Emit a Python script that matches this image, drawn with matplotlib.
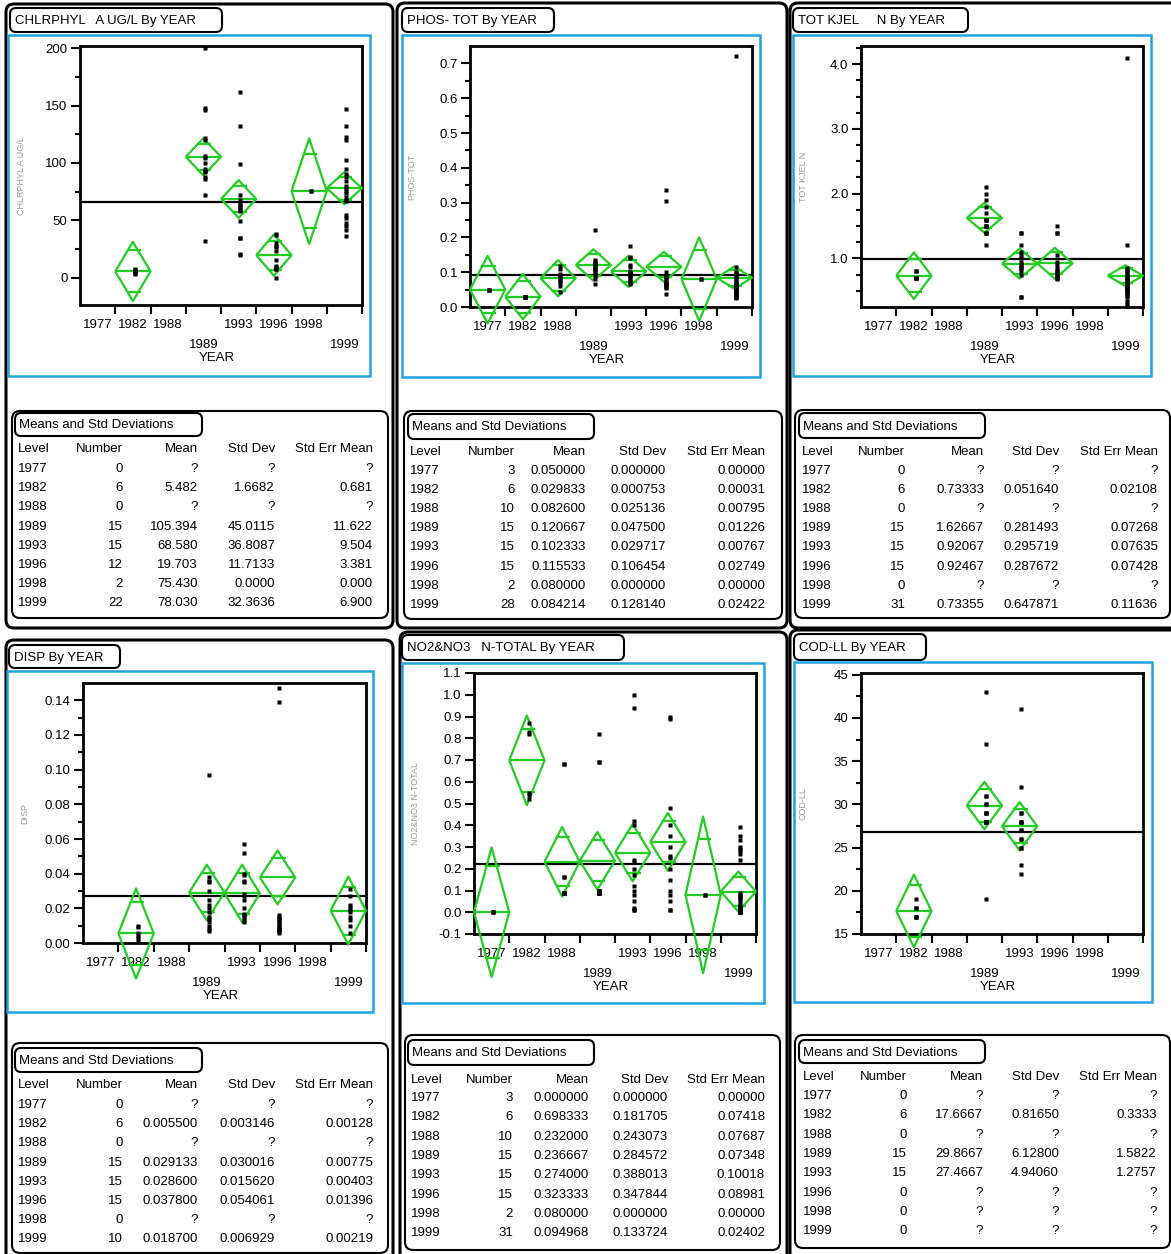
import matplotlib.pyplot as plt
from matplotlib.patches import FancyBboxPatch, Rectangle
from matplotlib.ticker import FixedLocator, FormatStrFormatter

plt.rcParams['font.family'] = ['Liberation Sans', 'DejaVu Sans']

W, H = 1171, 1254
GREEN = '#22cc22'
BLUE = '#1fa3df'
FS = 9.5

YEARS = ['1977', '1982', '1988', '1989', '1993', '1996', '1998', '1999']
LOWER_ROW = ['1989', '1999']
TABLE_HEAD = ['Level', 'Number', 'Mean', 'Std Dev', 'Std Err Mean']

# ---- CHLRPHYL A UG/L ----
chl_n = ['0', '6', '0', '15', '15', '12', '2', '22']
chl_mean = ['?', '5.482', '?', '105.394', '68.580', '19.703', '75.430', '78.030']
chl_sd = ['?', '1.6682', '?', '45.0115', '36.8087', '11.7133', '0.0000', '32.3636']
chl_sem = ['?', '0.681', '?', '11.622', '9.504', '3.381', '0.000', '6.900']
chl_ci = [0, 25.8, 0, 16.2, 16.5, 18.0, 46.0, 14.0]
chl_grand = 66.3
chl_pts = [[], [3.2, 4.5, 5.3, 6.0, 6.9, 7.5], [],
           [200, 148, 146, 122, 120, 106, 104, 100, 95, 93, 92, 88, 86, 72, 32],
           [162, 132, 99, 72, 68, 65, 63, 62, 60, 58, 49, 35, 35, 21, 20],
           [38, 37, 30, 28, 27, 23, 15, 10, 9, 8, 8, 0],
           [75.4, 75.4],
           [147, 132, 123, 120, 103, 95, 90, 88, 84, 80, 78, 76, 74, 70, 68, 67, 55, 52, 48, 45, 42, 36]]

# ---- PHOS-TOT ----
pho_n = ['3', '6', '10', '15', '15', '15', '2', '28']
pho_mean = ['0.050000', '0.029833', '0.082600', '0.120667', '0.102333', '0.115533', '0.080000', '0.084214']
pho_sd = ['0.000000', '0.000753', '0.025136', '0.047500', '0.029717', '0.106454', '0.000000', '0.128140']
pho_sem = ['0.00000', '0.00031', '0.00795', '0.01226', '0.00767', '0.02749', '0.00000', '0.02422']
pho_ci = [0.097, 0.065, 0.052, 0.045, 0.045, 0.043, 0.12, 0.032]
pho_grand = 0.093
pho_pts = [[0.05, 0.05, 0.05], [0.029, 0.03, 0.03, 0.03, 0.03, 0.029],
           [0.117, 0.11, 0.095, 0.09, 0.085, 0.08, 0.075, 0.07, 0.06, 0.044],
           [0.22, 0.135, 0.13, 0.125, 0.12, 0.12, 0.115, 0.11, 0.11, 0.105, 0.1, 0.095, 0.09, 0.08, 0.065],
           [0.176, 0.145, 0.14, 0.12, 0.115, 0.1, 0.1, 0.098, 0.095, 0.09, 0.085, 0.08, 0.075, 0.07, 0.065],
           [0.335, 0.305, 0.1, 0.09, 0.085, 0.08, 0.075, 0.07, 0.068, 0.065, 0.062, 0.06, 0.058, 0.055, 0.036],
           [0.08, 0.08],
           [0.72, 0.115, 0.1, 0.098, 0.095, 0.09, 0.085, 0.08, 0.075, 0.07, 0.068, 0.065, 0.062, 0.06,
            0.058, 0.055, 0.052, 0.05, 0.048, 0.045, 0.042, 0.04, 0.038, 0.035, 0.032, 0.03, 0.028, 0.025]]

# ---- TOT KJEL N ----
tkn_n = ['0', '6', '0', '15', '15', '15', '0', '31']
tkn_mean = ['?', '0.73333', '?', '1.62667', '0.92067', '0.92467', '?', '0.73355']
tkn_sd = ['?', '0.051640', '?', '0.281493', '0.295719', '0.287672', '?', '0.647871']
tkn_sem = ['?', '0.02108', '?', '0.07268', '0.07635', '0.07428', '?', '0.11636']
tkn_ci = [0, 0.36, 0, 0.23, 0.23, 0.24, 0, 0.16]
tkn_grand = 0.985
tkn_pts = [[], [0.8, 0.8, 0.7, 0.7, 0.7, 0.7], [],
           [2.1, 2.0, 1.9, 1.8, 1.7, 1.6, 1.6, 1.6, 1.5, 1.5, 1.5, 1.4, 1.4, 1.4, 1.2],
           [1.4, 1.4, 1.2, 1.1, 1.05, 1.0, 0.95, 0.9, 0.9, 0.85, 0.85, 0.8, 0.75, 0.4, 0.4],
           [1.5, 1.4, 1.4, 1.05, 0.95, 0.9, 0.85, 0.8, 0.8, 0.78, 0.75, 0.72, 0.7, 0.7, 0.68],
           [],
           [4.1, 1.2, 0.85, 0.82, 0.8, 0.78, 0.75, 0.72, 0.7, 0.68, 0.66, 0.65, 0.63, 0.62, 0.6, 0.6,
            0.58, 0.56, 0.55, 0.54, 0.52, 0.5, 0.5, 0.48, 0.46, 0.45, 0.42, 0.4, 0.35, 0.3, 0.27]]

# ---- DISP ----
dsp_n = ['0', '6', '0', '15', '15', '15', '0', '10']
dsp_mean = ['?', '0.005500', '?', '0.029133', '0.028600', '0.037800', '?', '0.018700']
dsp_sd = ['?', '0.003146', '?', '0.030016', '0.015620', '0.054061', '?', '0.006929']
dsp_sem = ['?', '0.00128', '?', '0.00775', '0.00403', '0.01396', '?', '0.00219']
dsp_ci = [0, 0.026, 0, 0.016, 0.0166, 0.0155, 0, 0.0196]
dsp_grand = 0.0274
dsp_pts = [[], [0.01, 0.009, 0.006, 0.004, 0.003, 0.001], [],
           [0.097, 0.038, 0.036, 0.035, 0.03, 0.025, 0.022, 0.02, 0.018, 0.015, 0.014, 0.012, 0.01, 0.008, 0.007],
           [0.057, 0.052, 0.04, 0.039, 0.036, 0.035, 0.028, 0.027, 0.025, 0.02, 0.017, 0.016, 0.015, 0.013, 0.012],
           [0.147, 0.139, 0.016, 0.015, 0.014, 0.013, 0.012, 0.011, 0.01, 0.009, 0.008, 0.008, 0.007, 0.007, 0.006],
           [],
           [0.031, 0.027, 0.022, 0.021, 0.019, 0.018, 0.015, 0.013, 0.01, 0.006]]

# ---- NO2&NO3 N-TOTAL ----
nox_n = ['3', '6', '10', '15', '15', '15', '2', '31']
nox_mean = ['0.000000', '0.698333', '0.232000', '0.236667', '0.274000', '0.323333', '0.080000', '0.094968']
nox_sd = ['0.000000', '0.181705', '0.243073', '0.284572', '0.388013', '0.347844', '0.000000', '0.133724']
nox_sem = ['0.00000', '0.07418', '0.07687', '0.07348', '0.10018', '0.08981', '0.00000', '0.02402']
nox_ci = [0.298, 0.206, 0.16, 0.132, 0.131, 0.133, 0.36, 0.092]
nox_grand = 0.222
nox_pts = [[0.0, 0.0, 0.0], [0.87, 0.83, 0.82, 0.55, 0.54, 0.52],
           [0.68, 0.68, 0.16, 0.16, 0.09, 0.09, 0.09, 0.09, 0.09, 0.09],
           [0.82, 0.69, 0.69, 0.1, 0.1, 0.1, 0.1, 0.1, 0.1, 0.09, 0.09, 0.09, 0.09, 0.09, 0.09],
           [1.0, 0.94, 0.42, 0.4, 0.24, 0.23, 0.2, 0.17, 0.12, 0.1, 0.08, 0.05, 0.02, 0.01, 0.01],
           [0.9, 0.89, 0.48, 0.4, 0.35, 0.3, 0.26, 0.25, 0.2, 0.15, 0.1, 0.08, 0.05, 0.01, 0.01],
           [0.08, 0.08],
           [0.39, 0.35, 0.33, 0.3, 0.29, 0.28, 0.27, 0.24, 0.09, 0.08, 0.07, 0.07, 0.06, 0.05, 0.04, 0.03,
            0.03, 0.02, 0.02, 0.01, 0.01, 0.01, 0.0, 0.0, 0.0, 0.0, 0.0, 0.0, 0.0, 0.0, 0.0]]

# ---- COD-LL ----
cod_n = ['0', '6', '0', '15', '15', '0', '0', '0']
cod_mean = ['?', '17.6667', '?', '29.8667', '27.4667', '?', '?', '?']
cod_sd = ['?', '0.81650', '?', '6.12800', '4.94060', '?', '?', '?']
cod_sem = ['?', '0.3333', '?', '1.5822', '1.2757', '?', '?', '?']
cod_ci = [0, 4.2, 0, 2.73, 2.8, 0, 0, 0]
cod_grand = 26.85
cod_pts = [[], [19, 18, 18, 17, 17, 17], [],
           [43, 37, 31, 31, 30, 30, 29, 29, 29, 28, 28, 28, 28, 28, 19],
           [41, 32, 29, 29, 28, 28, 28, 27, 27, 26, 26, 25, 25, 23, 22],
           [], [], []]

panels = [
    dict(title='CHLRPHYL   A UG/L By YEAR', ylab='CHLRPHYL A UG/L',
         n=chl_n, mean=chl_mean, sd=chl_sd, sem=chl_sem, ci=chl_ci, grand=chl_grand, pts=chl_pts,
         frame=(6, 4, 393, 628), tbox=(10, 8, 222, 32), blue=(8, 35, 370, 376),
         ax=(80, 46, 362, 305), ylim=(-23.8, 202), major=[0, 50, 100, 150, 200],
         minor=[25, 75, 125, 175], fmt='%d',
         table=(12, 411, 388, 618), ttl=(15, 413, 202, 436),
         cols=(18, 123, 198, 275, 373), head=449, row0=469, step=19.2),
    dict(title='PHOS- TOT By YEAR', ylab='PHOS-TOT',
         n=pho_n, mean=pho_mean, sd=pho_sd, sem=pho_sem, ci=pho_ci, grand=pho_grand, pts=pho_pts,
         frame=(397, 3, 787, 628), tbox=(402, 8, 554, 32), blue=(402, 35, 760, 377),
         ax=(470, 46, 752, 307), ylim=(0, 0.75), major=[0.1 * i for i in range(8)],
         minor=[0.05 + 0.1 * i for i in range(7)], fmt='%.1f',
         table=(404, 411, 782, 619), ttl=(408, 414, 594, 439),
         cols=(410, 515, 586, 666, 765), head=452, row0=471, step=19.1),
    dict(title='TOT KJEL     N By YEAR', ylab='TOT KJEL N',
         n=tkn_n, mean=tkn_mean, sd=tkn_sd, sem=tkn_sem, ci=tkn_ci, grand=tkn_grand, pts=tkn_pts,
         frame=(790, 3, 1190, 628), tbox=(793, 8, 968, 32), blue=(793, 35, 1151, 376),
         ax=(861, 46, 1143, 307), ylim=(0.25, 4.28), major=[1.0, 2.0, 3.0, 4.0],
         minor=[0.5, 0.75, 1.25, 1.5, 1.75, 2.25, 2.5, 2.75, 3.25, 3.5, 3.75, 4.25], fmt='%.1f',
         table=(795, 410, 1170, 618), ttl=(799, 413, 985, 438),
         cols=(802, 905, 984, 1059, 1158), head=452, row0=471, step=19.1),
    dict(title='DISP By YEAR', ylab='DISP',
         n=dsp_n, mean=dsp_mean, sd=dsp_sd, sem=dsp_sem, ci=dsp_ci, grand=dsp_grand, pts=dsp_pts,
         frame=(6, 640, 393, 1270), tbox=(9, 645, 120, 668), blue=(7, 671, 373, 1012),
         ax=(83, 683, 366, 943), ylim=(0, 0.15), major=[0.02 * i for i in range(8)],
         minor=[0.01 + 0.02 * i for i in range(7)], fmt='%.2f',
         table=(12, 1043, 388, 1253), ttl=(15, 1048, 202, 1072),
         cols=(18, 123, 198, 275, 373), head=1085, row0=1105, step=19.2),
    dict(title='NO2&NO3   N-TOTAL By YEAR', ylab='NO2&NO3 N-TOTAL',
         n=nox_n, mean=nox_mean, sd=nox_sd, sem=nox_sem, ci=nox_ci, grand=nox_grand, pts=nox_pts,
         frame=(400, 632, 787, 1270), tbox=(402, 635, 624, 660), blue=(402, 663, 764, 1003),
         ax=(474, 673, 756, 934), ylim=(-0.1, 1.1), major=[-0.1 + 0.1 * i for i in range(13)],
         minor=[], fmt='%.1f',
         table=(405, 1035, 780, 1250), ttl=(408, 1040, 594, 1065),
         cols=(411, 513, 589, 668, 765), head=1080, row0=1098, step=19.3),
    dict(title='COD-LL By YEAR', ylab='COD-LL',
         n=cod_n, mean=cod_mean, sd=cod_sd, sem=cod_sem, ci=cod_ci, grand=cod_grand, pts=cod_pts,
         frame=(790, 630, 1190, 1270), tbox=(794, 634, 926, 660), blue=(794, 662, 1152, 1002),
         ax=(861, 673, 1143, 934), ylim=(15, 45.2), major=[15, 20, 25, 30, 35, 40, 45],
         minor=[17.5, 22.5, 27.5, 32.5, 37.5, 42.5], fmt='%d',
         table=(795, 1035, 1170, 1248), ttl=(799, 1040, 985, 1063),
         cols=(803, 907, 983, 1059, 1157), head=1077, row0=1096, step=19.3),
]

fig = plt.figure(figsize=(W / 100, H / 100), dpi=100)
bg = fig.add_axes([0, 0, 1, 1], zorder=0)
bg.set_xlim(0, W)
bg.set_ylim(H, 0)
bg.axis('off')


def rbox(x0, y0, x1, y1, lw=1.5, r=6, color='black'):
    bg.add_patch(FancyBboxPatch((x0, y0), x1 - x0, y1 - y0,
                                boxstyle='round,pad=0,rounding_size=%d' % r,
                                fc='none', ec=color, lw=lw))


def diamond(ax, c, m, h):
    kw = dict(color=GREEN, lw=1.6, clip_on=False, zorder=4, solid_capstyle='butt')
    ax.plot([c - 0.5, c, c + 0.5, c, c - 0.5], [m, m + h, m, m - h, m], **kw)
    ax.plot([c - 0.5, c + 0.5], [m, m], **kw)
    d = h * 0.7071
    w = 0.5 * (1 - 0.7071)
    for s in (1, -1):
        ax.plot([c - w - 0.03, c + w + 0.08], [m + s * d, m + s * d], **kw)


for p in panels:
    # outline frames and boxes
    rbox(*p['frame'], lw=2.2, r=8)
    rbox(*p['tbox'], lw=1.5, r=6)
    bx0, by0, bx1, by1 = p['blue']
    bg.add_patch(Rectangle((bx0, by0), bx1 - bx0, by1 - by0, fc='none', ec=BLUE, lw=1.8))
    bg.text(p['tbox'][0] + 5, (p['tbox'][1] + p['tbox'][3]) / 2 + 1, p['title'],
            fontsize=FS, ha='left', va='center')

    # plot
    x0, y0, x1, y1 = p['ax']
    ax = fig.add_axes([x0 / W, 1 - y1 / H, (x1 - x0) / W, (y1 - y0) / H], zorder=2)
    ax.patch.set_alpha(0)
    ax.set_xlim(0, 8)
    ax.set_ylim(*p['ylim'])
    for sp in ax.spines.values():
        sp.set_linewidth(2)
    ax.yaxis.set_major_locator(FixedLocator(p['major']))
    ax.yaxis.set_minor_locator(FixedLocator(p['minor']))
    ax.yaxis.set_major_formatter(FormatStrFormatter(p['fmt']))
    ax.set_xticks(range(1, 9))
    ax.set_xticklabels([])
    ax.tick_params(axis='both', which='major', direction='out', length=6.5, width=1.5,
                   labelsize=FS, pad=2.5)
    ax.tick_params(axis='y', which='minor', direction='out', length=3.6, width=1.5)

    ax.axhline(p['grand'], color='black', lw=1.6, zorder=3)
    for i, yr in enumerate(YEARS):
        c = i + 0.5
        if p['mean'][i] != '?':
            diamond(ax, c, float(p['mean'][i]), p['ci'][i])
        if p['pts'][i]:
            ax.plot([c + 0.05] * len(p['pts'][i]), p['pts'][i], 's', ms=2.8, color='black',
                    mec='none', zorder=5, clip_on=False)
        dy = -40 if yr in LOWER_ROW else -20
        ax.annotate(yr, xy=(c, 0), xycoords=('data', 'axes fraction'),
                    xytext=(0, dy * 0.72), textcoords='offset points',
                    ha='center', va='center', fontsize=FS)
    ax.annotate('YEAR', xy=(0.5, 0), xycoords='axes fraction', xytext=(-3, -53 * 0.72),
                textcoords='offset points', ha='center', va='center', fontsize=FS)

    # faint y label (as in the scan)
    bg.text(x0 - 58, (y0 + y1) / 2, p['ylab'], rotation=90, fontsize=6.5,
            color='#9a9a9a', ha='center', va='center')

    # table
    rbox(*p['table'], lw=1.5, r=8)
    rbox(*p['ttl'], lw=1.5, r=6)
    bg.text(p['ttl'][0] + 4, (p['ttl'][1] + p['ttl'][3]) / 2 + 1, 'Means and Std Deviations',
            fontsize=FS, ha='left', va='center')
    cx = p['cols']
    for j, h in enumerate(TABLE_HEAD):
        bg.text(cx[j], p['head'], h, fontsize=FS, ha='left' if j == 0 else 'right', va='center')
    for i, yr in enumerate(YEARS):
        yy = p['row0'] + i * p['step']
        row = [yr, p['n'][i], p['mean'][i], p['sd'][i], p['sem'][i]]
        for j, v in enumerate(row):
            bg.text(cx[j], yy, v, fontsize=FS, ha='left' if j == 0 else 'right', va='center')

fig.savefig('out.png', dpi=100)
